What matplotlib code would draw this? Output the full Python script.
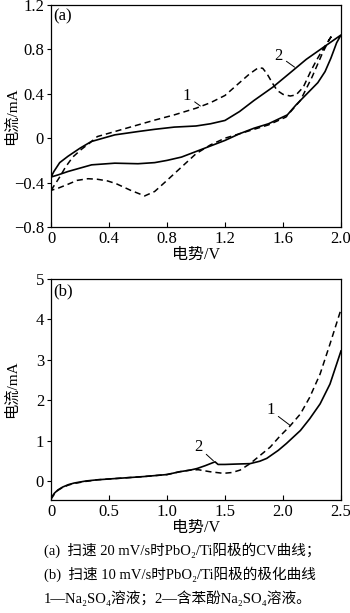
import matplotlib
matplotlib.use("Agg")
import matplotlib.pyplot as plt

plt.rcParams['font.family'] = ['Liberation Serif', 'Noto Sans CJK SC', 'DejaVu Serif']
plt.rcParams['font.size'] = 12

# ---- panel (a): CV curves at 20 mV/s ----
# curve 1 (Na2SO4, dashed): anodic branch then cathodic branch
cv1_x_fwd = [0, 0.025, 0.06, 0.1, 0.15, 0.21, 0.27, 0.32, 0.44, 0.6, 0.715, 0.85, 1.0, 1.1, 1.2,
             1.3, 1.37, 1.43, 1.46, 1.49, 1.53, 1.56, 1.6, 1.65, 1.69, 1.74, 1.79, 1.83, 1.87, 1.91, 1.94]
cv1_y_fwd = [-0.47, -0.42, -0.35, -0.26, -0.17, -0.10, -0.04, 0.015, 0.06, 0.12, 0.163, 0.21, 0.27, 0.32, 0.385,
             0.50, 0.58, 0.635, 0.63, 0.58, 0.49, 0.43, 0.395, 0.38, 0.39, 0.46, 0.60, 0.70, 0.79, 0.87, 0.93]
cv1_x_rev = [1.94, 1.92, 1.87, 1.80, 1.72, 1.62, 1.5, 1.4, 1.3, 1.2, 1.1, 1.0, 0.9, 0.8, 0.715,
             0.646, 0.55, 0.45, 0.39, 0.32, 0.255, 0.18, 0.117, 0.05, 0]
cv1_y_rev = [0.93, 0.89, 0.76, 0.55, 0.34, 0.19, 0.12, 0.08, 0.04, 0.0, -0.06, -0.14, -0.26, -0.38, -0.48,
             -0.52, -0.47, -0.41, -0.385, -0.37, -0.365, -0.38, -0.415, -0.45, -0.47]

# curve 2 (phenol + Na2SO4, solid)
cv2_x_fwd = [0, 0.02, 0.06, 0.117, 0.2, 0.278, 0.44, 0.6, 0.715, 0.85, 1.0, 1.1, 1.2, 1.3, 1.4,
             1.53, 1.65, 1.76, 1.88, 2.0]
cv2_y_fwd = [-0.35, -0.30, -0.22, -0.163, -0.09, -0.03, 0.03, 0.06, 0.08, 0.10, 0.11, 0.13, 0.16, 0.24, 0.34,
             0.46, 0.59, 0.71, 0.82, 0.93]
cv2_x_rev = [2.0, 1.97, 1.93, 1.89, 1.84, 1.75, 1.69, 1.63, 1.5, 1.4, 1.3, 1.2, 1.1, 1.0, 0.9,
             0.8, 0.715, 0.6, 0.44, 0.28, 0.117, 0.05, 0]
cv2_y_rev = [0.93, 0.86, 0.72, 0.60, 0.50, 0.38, 0.30, 0.21, 0.13, 0.09, 0.04, -0.02, -0.07, -0.12, -0.17,
             -0.20, -0.22, -0.23, -0.225, -0.24, -0.30, -0.33, -0.35]

a_xticks = [0, 0.4, 0.8, 1.2, 1.6, 2.0]
a_xticklabels = ['0', '0.4', '0.8', '1.2', '1.6', '2.0']
a_yticks = [-0.8, -0.4, 0, 0.4, 0.8, 1.2]
a_yticklabels = ['\u22120.8', '\u22120.4', '0', '0.4', '0.8', '1.2']

# ---- panel (b): polarization curves at 10 mV/s ----
pol1_x = [0, 0.03, 0.06, 0.1, 0.15, 0.2, 0.3, 0.4, 0.6, 0.8, 1.0, 1.11, 1.2, 1.27, 1.37,
          1.486, 1.56, 1.63, 1.716, 1.78, 1.89, 1.97, 2.06, 2.15, 2.23, 2.32, 2.405, 2.5]
pol1_y = [-0.45, -0.32, -0.23, -0.16, -0.10, -0.06, -0.01, 0.03, 0.07, 0.11, 0.16, 0.23, 0.27, 0.28, 0.23,
          0.19, 0.21, 0.27, 0.43, 0.58, 0.84, 1.10, 1.36, 1.66, 2.07, 2.65, 3.39, 4.25]
pol2_x = [0, 0.03, 0.06, 0.1, 0.15, 0.2, 0.3, 0.4, 0.6, 0.8, 1.0, 1.11, 1.2, 1.26, 1.33,
          1.414, 1.44, 1.5, 1.6, 1.716, 1.8, 1.86, 1.96, 2.03, 2.15, 2.23, 2.32, 2.405, 2.5]
pol2_y = [-0.42, -0.30, -0.22, -0.15, -0.09, -0.05, 0.0, 0.03, 0.07, 0.11, 0.16, 0.23, 0.27, 0.31, 0.38,
          0.475, 0.41, 0.41, 0.42, 0.43, 0.49, 0.56, 0.76, 0.93, 1.25, 1.54, 1.91, 2.40, 3.22]

b_xticks = [0, 0.5, 1.0, 1.5, 2.0, 2.5]
b_xticklabels = ['0', '0.5', '1.0', '1.5', '2.0', '2.5']
b_yticks = [0, 1, 2, 3, 4, 5]
b_yticklabels = ['0', '1', '2', '3', '4', '5']

xlabel = '电势/V'
ylabel = '电流/mA'
caption = [
    '(a)  扫速 20 mV/s时PbO\u2082/Ti阳极的CV曲线；',
    '(b)  扫速 10 mV/s时PbO\u2082/Ti阳极的极化曲线',
    '1\u2014Na\u2082SO\u2084溶液；2\u2014含苯酚Na\u2082SO\u2084溶液。',
]

DASH = (0, (4.0, 2.6))
W, H = 350, 613


def style_axes(ax):
    for sp in ax.spines.values():
        sp.set_linewidth(0.9)
    ax.tick_params(axis='x', direction='in', length=3.5, width=0.8, pad=3, labelsize=12)
    ax.tick_params(axis='y', direction='out', length=3, width=0.8, pad=2, labelsize=12)
    ax.yaxis.set_label_coords(-0.112, 0.5)


def label_line(ax, text, txt_xy, pt_xy):
    ax.annotate(text, xy=pt_xy, xytext=txt_xy, ha='center', va='center', fontsize=12,
                arrowprops=dict(arrowstyle='-', lw=0.7, color='black', shrinkA=1, shrinkB=0))


fig = plt.figure(figsize=(W / 100, H / 100), dpi=100)

ax_a = fig.add_axes([51 / W, 1 - 227 / H, 290 / W, 222 / H])
ax_a.plot(cv1_x_fwd + cv1_x_rev, cv1_y_fwd + cv1_y_rev, color='black', lw=1.1, ls=DASH)
ax_a.plot(cv2_x_fwd + cv2_x_rev, cv2_y_fwd + cv2_y_rev, color='black', lw=1.2)
ax_a.set_xlim(0, 2.0)
ax_a.set_ylim(-0.79, 1.185)
ax_a.set_xticks(a_xticks, a_xticklabels)
ax_a.set_yticks(a_yticks, a_yticklabels)
ax_a.set_xlabel(xlabel, fontsize=11.5, labelpad=0)
ax_a.set_ylabel(ylabel, fontsize=11)
style_axes(ax_a)
ax_a.text(0.083, 1.096, '(a)', ha='center', va='center', fontsize=12)
label_line(ax_a, '1', (0.935, 0.38), (1.03, 0.29))
label_line(ax_a, '2', (1.568, 0.745), (1.68, 0.64))

ax_b = fig.add_axes([51 / W, 1 - 500 / H, 290 / W, 221 / H])
ax_b.plot(pol1_x, pol1_y, color='black', lw=1.1, ls=DASH)
ax_b.plot(pol2_x, pol2_y, color='black', lw=1.2)
ax_b.set_xlim(0, 2.5)
ax_b.set_ylim(-0.47, 4.97)
ax_b.set_xticks(b_xticks, b_xticklabels)
ax_b.set_yticks(b_yticks, b_yticklabels)
ax_b.set_xlabel(xlabel, fontsize=11.5, labelpad=0)
ax_b.set_ylabel(ylabel, fontsize=11)
style_axes(ax_b)
ax_b.text(0.106, 4.70, '(b)', ha='center', va='center', fontsize=12)
label_line(ax_b, '1', (1.89, 1.75), (2.06, 1.38))
label_line(ax_b, '2', (1.27, 0.84), (1.40, 0.50))

for i, line in enumerate(caption):
    fig.text(44 / W, 1 - (550 + 24 * i) / H, line, ha='left', va='center', fontsize=10.5)

fig.savefig('out.png', dpi=100)
